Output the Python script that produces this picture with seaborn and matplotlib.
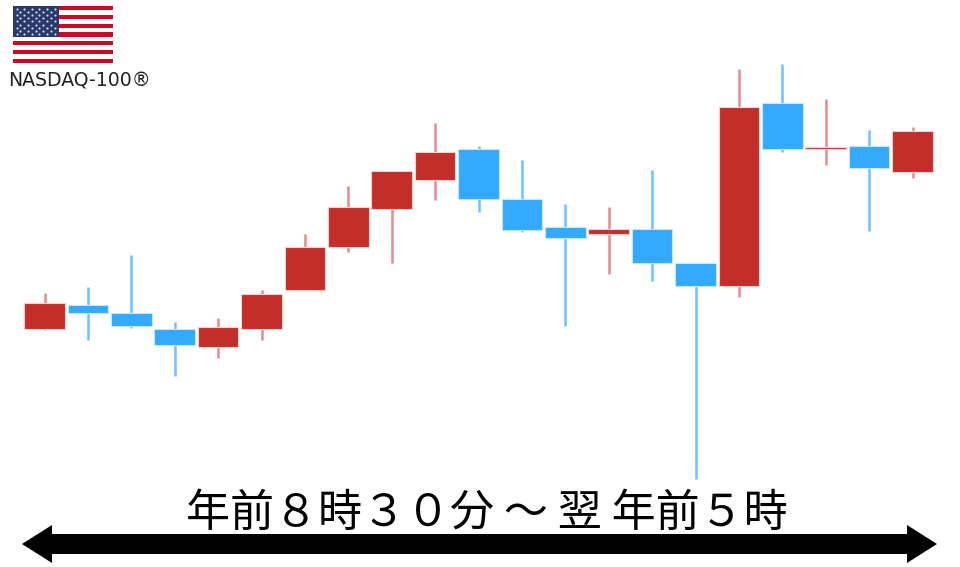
import numpy as np
import pandas as pd
import matplotlib
matplotlib.use('Agg')
import matplotlib.pyplot as plt
from matplotlib.patches import Polygon, Rectangle
import seaborn as sns

# candles, price axis is arbitrary
body_high = [264, 262, 254, 238, 240, 273, 320, 360, 396, 415, 418, 368, 340, 338, 338, 304, 460, 464, 420, 421, 436]
body_low = [238, 254, 241, 222, 220, 238, 277, 320, 358, 387, 368, 337, 329, 333, 304, 281, 281, 418, 418, 399, 395]
wick_high = [274, 280, 312, 245, 249, 277, 333, 381, 396, 444, 421, 407, 363, 360, 397, 304, 498, 503, 468, 437, 440]
wick_low = [237, 227, 239, 191, 209, 227, 277, 315, 304, 367, 355, 335, 241, 293, 286, 88, 270, 415, 402, 336, 389]
direction = ['up', 'down', 'down', 'down', 'up', 'up', 'up', 'up', 'up', 'up', 'down',
             'down', 'down', 'up', 'down', 'down', 'up', 'down', 'up', 'down', 'up']

index_name = 'NASDAQ-100®'
session_label = '年前８時３０分 ～ 翌 年前５時'

body_colors = {'up': '#C32E2A', 'down': '#33A9FF'}
wick_colors = {'up': '#DF8E8C', 'down': '#6CC4FF'}

df = pd.DataFrame({'slot': range(len(direction)), 'body_high': body_high, 'body_low': body_low,
                   'wick_high': wick_high, 'wick_low': wick_low, 'direction': direction})
df['height'] = df.body_high - df.body_low

sns.set_style('white')
plt.rcParams['font.family'] = ['Noto Sans CJK JP', 'DejaVu Sans']

fig = plt.figure(figsize=(9.6, 5.67), dpi=100)
ax = fig.add_axes([0, 0, 1, 1])

# wicks first so the bodies sit on top
for d, part in df.groupby('direction'):
    ax.vlines(part.slot, part.wick_low, part.wick_high, color=wick_colors[d], lw=1.8, zorder=1)

for d, part in df.groupby('direction'):
    sns.barplot(data=part, x='slot', y='height', bottom=part.body_low.values, native_scale=True,
                color=body_colors[d], saturation=1, width=0.94, edgecolor='#F2D0CE' if d == 'up' else '#C4E6FF',
                linewidth=0.8, errorbar=None, ax=ax, zorder=2)

# slot 0 sits at 44.5px and slots are 43.4px apart
ax.set_xlim(-44.5 / 43.4, (960 - 44.5) / 43.4)
ax.set_ylim(0, 567)
ax.axis('off')

# overlay for flag, captions and arrow, in picture pixels
top = fig.add_axes([0, 0, 1, 1])
top.set_xlim(0, 960)
top.set_ylim(567, 0)
top.axis('off')
top.patch.set_alpha(0)

stripe_h = 57 / 13
for i in range(13):
    top.add_patch(Rectangle((13, 6 + i * stripe_h), 100, stripe_h, color='#CC0A22' if i % 2 == 0 else 'white', lw=0))
top.add_patch(Rectangle((13, 6), 46, 30.5, color='#2B3A6E', lw=0))
for row in range(9):
    cols = 6 if row % 2 == 0 else 5
    for col in range(cols):
        top.plot(16.5 + col * 7.6 + (0 if row % 2 == 0 else 3.8), 9 + row * 3.1, 'o', ms=1.5, color='#DDE1EE', mew=0)

top.text(8, 81, index_name, fontsize=13.6, family='DejaVu Sans', color='#222222', va='center', ha='left')
top.text(487, 513, session_label, fontsize=31.7, color='black', ha='center', va='center')

top.add_patch(Polygon([(22, 544), (52, 525), (52, 534), (907, 534), (907, 525), (937, 544),
                       (907, 563), (907, 554), (52, 554), (52, 563)], closed=True, color='black', lw=0))

fig.savefig('out.png', dpi=100)
